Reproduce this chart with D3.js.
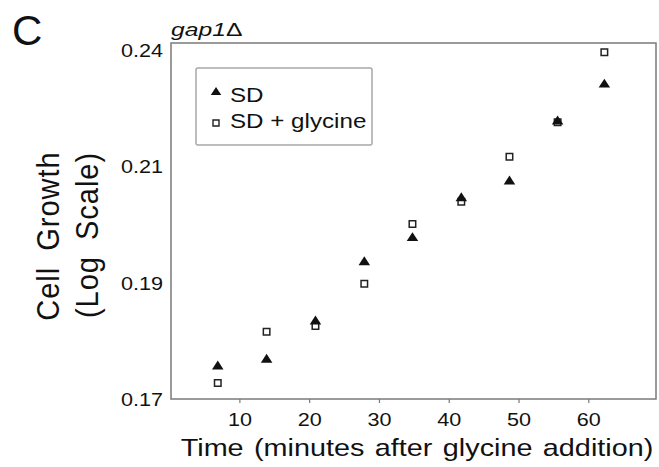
<!DOCTYPE html>
<html>
<head>
<meta charset="utf-8">
<script src="https://cdn.jsdelivr.net/npm/d3@7"></script>
<style>
  body { margin: 0; background: #fff; }
  text { font-family: "Liberation Sans", Arial, Helvetica, sans-serif; fill: #111; }
</style>
</head>
<body>
<svg id="chart" width="659" height="467"></svg>
<script>
// Sampling times (minutes after glycine addition)
const times = [6.9, 13.9, 20.9, 27.9, 34.8, 41.8, 48.7, 55.6, 62.3];
// Cell growth readings, gap1Δ strain
const sdValues      = [0.1758, 0.1770, 0.1838, 0.1949, 0.1996, 0.2076, 0.2111, 0.2240, 0.2323];
const glycineValues = [0.1727, 0.1817, 0.1827, 0.1905, 0.2021, 0.2066, 0.2160, 0.2235, 0.2395];
const seriesNames = ["SD", "SD + glycine"];
const xTicks = [10, 20, 30, 40, 50, 60];
const yTicks = [0.17, 0.1907, 0.2139, 0.24];
const yTickLabels = ["0.17", "0.19", "0.21", "0.24"];

const svg = d3.select("#chart");
const frame = { left: 171, right: 656, top: 43, bottom: 399 };
const WIDE = 1.2; // horizontal glyph stretch used by the figure's lettering

const x = d3.scaleLinear().domain([0.2, 69.7]).range([frame.left, frame.right]);
const y = d3.scaleLog().domain([0.17, 0.2417]).range([frame.bottom, frame.top]);

// Marker shapes
const triangleType = {
  draw(ctx, size) {
    const w = Math.sqrt(size), h = w * 0.78;
    ctx.moveTo(0, -h / 2);
    ctx.lineTo(w / 2, h / 2);
    ctx.lineTo(-w / 2, h / 2);
    ctx.closePath();
  }
};
const squareType = {
  draw(ctx, size) {
    const s = Math.sqrt(size) / 2;
    ctx.rect(-s, -s, 2 * s, 2 * s);
  }
};
const triPath = d3.symbol().type(triangleType).size(11.5 * 11.5)();
const sqPath = d3.symbol().type(squareType).size(6.5 * 6.5)();

// Panel letter and strain label
svg.append("text").attr("x", 12).attr("y", 45)
  .style("font-size", "42px").text("C");
const strain = svg.append("text")
  .attr("transform", `translate(${frame.left},36) scale(1.3,1)`)
  .style("font-size", "19px");
strain.append("tspan").style("font-style", "italic").text("gap1");
strain.append("tspan").text("Δ");

// Plot frame
svg.append("rect")
  .attr("x", frame.left).attr("y", frame.top)
  .attr("width", frame.right - frame.left).attr("height", frame.bottom - frame.top)
  .attr("fill", "none").attr("stroke", "#7a7a7a").attr("stroke-width", 1.5);

// X axis
const xAxis = svg.append("g")
  .attr("transform", `translate(0,${frame.bottom})`)
  .call(d3.axisBottom(x).tickValues(xTicks).tickSize(4).tickFormat(d3.format("d")));
xAxis.select(".domain").remove();
xAxis.selectAll(".tick line").attr("stroke", "#7a7a7a").attr("stroke-width", 1.2);
xAxis.selectAll(".tick text")
  .attr("y", 0).attr("dy", 0)
  .attr("transform", `translate(0,26.5) scale(${WIDE},1)`)
  .attr("fill", "#111").style("font-size", "18px")
  .style("font-family", "\"Liberation Sans\", Arial, sans-serif");

// Y axis (labels only)
const yAxis = svg.append("g")
  .attr("transform", `translate(${frame.left},0)`)
  .call(d3.axisLeft(y).tickValues(yTicks).tickSize(0)
    .tickFormat((d, i) => yTickLabels[i]));
yAxis.select(".domain").remove();
yAxis.selectAll(".tick text")
  .attr("x", 0).attr("dy", "0.35em")
  .attr("transform", `translate(-8,0) scale(${WIDE},1)`)
  .attr("fill", "#111").style("font-size", "18px")
  .style("font-family", "\"Liberation Sans\", Arial, sans-serif");

// Axis titles
svg.append("text")
  .attr("transform", `translate(417,456) scale(${WIDE},1)`)
  .attr("text-anchor", "middle").style("font-size", "24px")
  .style("word-spacing", "2px")
  .text("Time (minutes after glycine addition)");
svg.append("text")
  .attr("transform", "translate(59,236) scale(1.1,1) rotate(-90)")
  .attr("text-anchor", "middle").style("font-size", "29px")
  .style("letter-spacing", "1px").style("word-spacing", "7px")
  .text("Cell Growth");
svg.append("text")
  .attr("transform", "translate(98,235) scale(1.1,1) rotate(-90)")
  .attr("text-anchor", "middle").style("font-size", "29px")
  .style("letter-spacing", "1px").style("word-spacing", "7px")
  .text("(Log Scale)");

// Data points: squares beneath, triangles on top
svg.append("g").selectAll("path")
  .data(times.map((t, i) => ({ t, v: glycineValues[i] })))
  .join("path")
  .attr("d", sqPath)
  .attr("transform", d => `translate(${x(d.t)},${y(d.v)})`)
  .attr("fill", "#fff").attr("stroke", "#222").attr("stroke-width", 1.5);

svg.append("g").selectAll("path")
  .data(times.map((t, i) => ({ t, v: sdValues[i] })))
  .join("path")
  .attr("d", triPath)
  .attr("transform", d => `translate(${x(d.t)},${y(d.v)})`)
  .attr("fill", "#111");

// Legend
const legend = svg.append("g");
legend.append("rect")
  .attr("x", 196).attr("y", 68).attr("width", 176).attr("height", 77)
  .attr("rx", 2).attr("fill", "#fff")
  .attr("stroke", "#a8a8a8").attr("stroke-width", 1.5);
const markerY = [91, 123];
const labelY = [101.5, 128];
const rows = legend.selectAll("g.row")
  .data(seriesNames)
  .join("g").attr("class", "row");
rows.append("path")
  .attr("transform", (d, i) => `translate(216,${markerY[i]})`)
  .attr("d", (d, i) => i === 0 ? d3.symbol().type(triangleType).size(10.5 * 10.5)() : d3.symbol().type(squareType).size(6 * 6)())
  .attr("fill", (d, i) => i === 0 ? "#111" : "#fff")
  .attr("stroke", (d, i) => i === 0 ? "none" : "#222")
  .attr("stroke-width", 1.4);
rows.append("text")
  .attr("transform", (d, i) => `translate(230,${labelY[i]}) scale(1.24,1)`)
  .style("font-size", "19.5px")
  .text(d => d);
</script>
</body>
</html>
